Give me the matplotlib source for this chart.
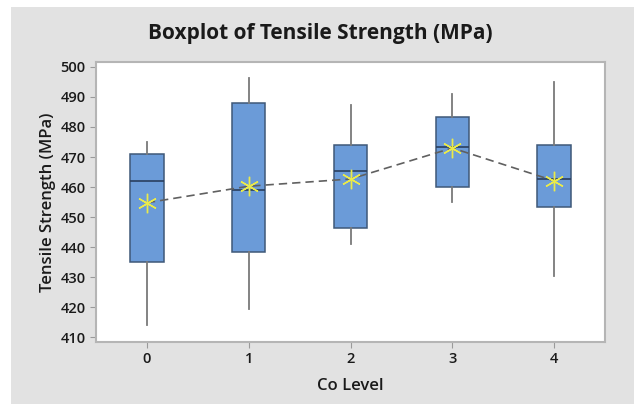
import matplotlib.pyplot as plt
from matplotlib.patches import Rectangle

plt.rcParams["font.family"] = ["Open Sans", "DejaVu Sans"]

# Tensile strength summaries per Co level
co_levels = [0, 1, 2, 3, 4]
whisker_low = [414.2, 419.5, 441.2, 455.2, 430.3]
q1 = [435.0, 438.3, 446.4, 460.1, 453.4]
median = [461.9, 459.1, 465.3, 473.5, 462.6]
q3 = [471.0, 488.0, 474.1, 483.2, 474.1]
whisker_high = [474.9, 496.4, 487.3, 490.8, 494.9]
mean = [454.8, 460.3, 462.7, 473.0, 462.1]

yticks = [410, 420, 430, 440, 450, 460, 470, 480, 490, 500]

box_fill = '#6b9bd8'
box_edge = '#3f5878'
grid_grey = '#9a9a9a'

fig = plt.figure(figsize=(6.34, 4.04), dpi=100, facecolor='white')
# grey panel behind the plot area
fig.patches.append(Rectangle((11 / 634, 0), 1, 1 - 7 / 404, transform=fig.transFigure,
                             facecolor='#e2e2e2', edgecolor='none', zorder=-10))

ax = fig.add_axes([96 / 634, 1 - 342 / 404, 509 / 634, 280 / 404])
ax.set_facecolor('white')

stats = []
for i in range(len(co_levels)):
    stats.append({
        'whislo': whisker_low[i], 'q1': q1[i], 'med': median[i],
        'q3': q3[i], 'whishi': whisker_high[i], 'mean': mean[i],
        'fliers': [],
    })

ax.bxp(stats, positions=co_levels, widths=0.33, patch_artist=True,
       showcaps=False, showmeans=False,
       boxprops=dict(facecolor=box_fill, edgecolor=box_edge, linewidth=1.1),
       medianprops=dict(color='#2a3f5f', linewidth=1.2),
       whiskerprops=dict(color='#7a7a7a', linewidth=1.3))

# connect the means and mark them
ax.plot(co_levels, mean, color='#606060', linestyle=(0, (5, 3)), linewidth=1.2, zorder=4)
ax.plot(co_levels, mean, linestyle='none', marker=(6, 2, 0), markersize=14,
        markeredgewidth=1.0, color='#eaea4a', markeredgecolor='#eaea4a', zorder=5)

ax.set_xlim(-0.5, 4.5)
ax.set_ylim(408.5, 501.6)
ax.set_xticks(co_levels)
ax.set_xticklabels([str(c) for c in co_levels])
ax.set_yticks(yticks)

for side in ax.spines.values():
    side.set_color('#b5b5b5')
    side.set_linewidth(1.5)
ax.tick_params(axis='both', colors=grid_grey, labelcolor='#1a1a1a', labelsize=10.5,
               length=4, width=0.8)
for lbl in ax.get_xticklabels() + ax.get_yticklabels():
    lbl.set_fontweight('semibold')

ax.set_xlabel('Co Level', fontsize=12, color='#1a1a1a', labelpad=8, fontweight='semibold')
ax.set_ylabel('Tensile Strength (MPa)', fontsize=12, color='#1a1a1a', labelpad=3,
              fontweight='semibold')
fig.text(0.505, 1 - 33 / 404, 'Boxplot of Tensile Strength (MPa)', ha='center', va='center',
         fontsize=15, fontweight='bold', color='#1a1a1a')

fig.savefig('out.png', dpi=100, facecolor=fig.get_facecolor())
